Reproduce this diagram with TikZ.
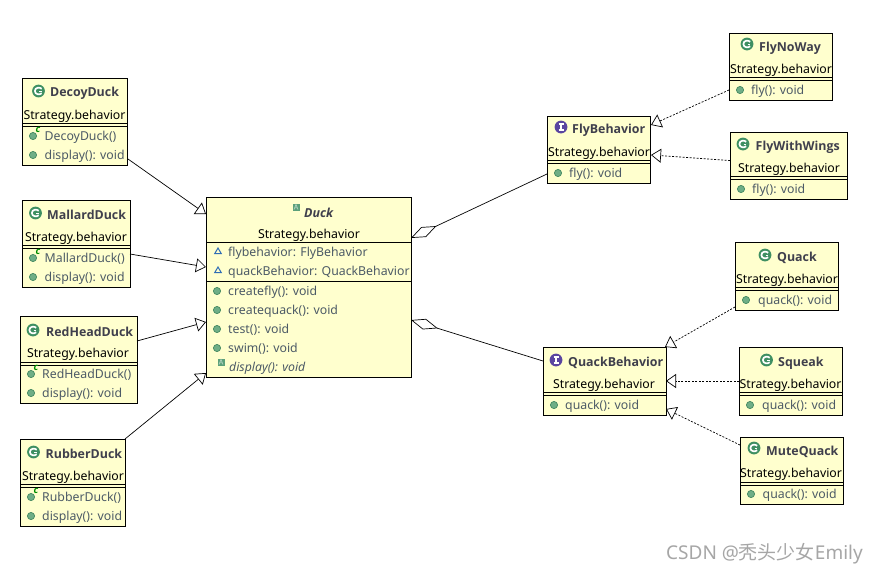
\documentclass[tikz,border=0pt]{standalone}
\usepackage{fontspec}
\setmainfont{Noto Sans}
\newfontfamily\cjkwm{Noto Sans CJK SC}
\newfontfamily\ttlfam{Open Sans}
\usetikzlibrary{arrows.meta,calc}
\definecolor{boxfill}{HTML}{FFFFCE}
\definecolor{ttlcol}{HTML}{3F3F4C}
\definecolor{memcol}{HTML}{4C5A66}
\definecolor{icongreen}{HTML}{3E8F62}
\definecolor{dotfill}{HTML}{6FAE86}
\definecolor{dotline}{HTML}{468A62}
\definecolor{ifacecol}{HTML}{5A45A0}
\definecolor{tricol}{HTML}{2F6DB5}
\definecolor{wmcol}{HTML}{A6A6A6}
\tikzset{
  x=1pt,y=-1pt,
  umlbox/.style={draw=black,fill=boxfill,line width=1pt,inner sep=0pt,outer sep=0pt},
  ttltext/.style={anchor=west,inner sep=0pt,yshift=-.8pt,font=\ttlfam\fontsize{12.4}{12}\selectfont\bfseries,text=ttlcol},
  pkgtext/.style={anchor=center,inner sep=0pt,yshift=-1pt,font=\fontsize{12.3}{12}\selectfont,text=black},
  memtext/.style={anchor=west,inner sep=0pt,yshift=-1pt,font=\fontsize{12.3}{12}\selectfont,text=memcol},
  gentip/.style={-{Triangle[open,length=10pt,width=14pt]}},
  gen/.style={draw=black,line width=.7pt,gentip},
  realize/.style={gen,dash pattern=on 2pt off 1.5pt},
  agg/.style={draw=black,line width=.7pt,{Diamond[open,length=28pt,width=11pt]}-},
}
\newcommand{\ubox}[5]{\node[umlbox,minimum width={(#4-#2)*1pt},minimum height={(#5-#3)*1pt}] (#1) at ({(#2+#4)/2},{(#3+#5)/2}) {};}
\newcommand{\hrules}[3]{\draw[line width=1pt] (#1,#3) -- (#2,#3);}
\newcommand{\ttlnode}[4]{\node[ttltext] (#1-t) at (#2,#3) {#4};}
\newcommand{\pkgnode}[3]{\node[pkgtext] (#1-p) at (#2,#3) {Strategy.behavior};}
\newcommand{\memnode}[4]{\node[memtext] (#1) at (#2,#3) {#4};}
\newcommand{\pubdot}[2]{\fill[dotfill,draw=dotline,line width=.7pt] (#1,#2) circle[radius=3.6pt];}
\newcommand{\classicon}[2]{\begin{scope}[shift={(#1,#2)}]
  \fill[icongreen] (0,0) circle[radius=6.4pt];
  \draw[white,line width=1.7pt] (3.2,-2.2) .. controls (1.5,-4) and (-3.6,-3.8) .. (-3.6,0) .. controls (-3.6,3.8) and (1.5,4) .. (3.2,2.2);
  \draw[white,line width=1.2pt] (0.5,0.5) -- (3.4,0.5);
  \end{scope}}
\newcommand{\ifaceicon}[2]{\begin{scope}[shift={(#1,#2)}]
  \fill[ifacecol] (0,0) circle[radius=6.4pt];
  \draw[white,line width=1.4pt] (-2.5,-3) -- (2.5,-3) (-2.5,3) -- (2.5,3) (0,-3) -- (0,3);
  \end{scope}}
\newcommand{\ctoricon}[2]{\node[inner sep=0pt,font=\ttlfam\fontsize{9.5}{9}\selectfont\bfseries\itshape,text=green!55!black] at (#1,#2) {c};}
\newcommand{\absicon}[2]{\begin{scope}[shift={(#1,#2)}]
  \fill[icongreen!85] (-3.5,-3.5) rectangle (3.5,3.5);
  \draw[white!65!icongreen,line width=.6pt] (-2,2.5) -- (0,-2.5) -- (2,2.5) (-1.2,.8) -- (1.2,.8);
  \end{scope}}
\newcommand{\fieldicon}[2]{\draw[tricol,line width=1pt] (#1,#2-3) -- (#1+3.2,#2+2.5) -- (#1-3.2,#2+2.5) -- cycle;}
\begin{document}
\begin{tikzpicture}
\useasboundingbox (0,0) rectangle (879,574);
\fill[white] (0,0) rectangle (879,574);
% DecoyDuck
\ubox{Decoy}{22}{78}{127}{165}
\hrules{22}{127}{123}\hrules{22}{127}{126}
\classicon{38.5}{91}\ttlnode{Decoy}{50}{92}{DecoyDuck}\pkgnode{Decoy}{74.5}{115}
\pubdot{33}{136}\ctoricon{38}{130}\memnode{Decoy-m1}{44.5}{136}{DecoyDuck()}
\pubdot{33}{155}\memnode{Decoy-m2}{44.5}{155}{display(): void}
% MallardDuck
\ubox{Mallard}{22}{200}{130}{287}
\hrules{22}{130}{245}\hrules{22}{130}{248}
\classicon{35.5}{213}\ttlnode{Mallard}{47}{214}{MallardDuck}\pkgnode{Mallard}{76}{237}
\pubdot{33}{258}\ctoricon{38}{252}\memnode{Mallard-m1}{44.5}{258}{MallardDuck()}
\pubdot{33}{277}\memnode{Mallard-m2}{44.5}{277}{display(): void}
% RedHeadDuck
\ubox{RedHead}{20}{316}{137}{403}
\hrules{20}{137}{362}\hrules{20}{137}{365}
\classicon{33}{330}\ttlnode{RedHead}{46}{331}{RedHeadDuck}\pkgnode{RedHead}{78}{353}
\pubdot{31}{374}\ctoricon{36}{368}\memnode{RedHead-m1}{42}{374}{RedHeadDuck()}
\pubdot{31}{393}\memnode{RedHead-m2}{42}{393}{display(): void}
% RubberDuck
\ubox{Rubber}{20}{439}{125}{526}
\hrules{20}{125}{484}\hrules{20}{125}{487}
\classicon{33.5}{452}\ttlnode{Rubber}{45.5}{453}{RubberDuck}\pkgnode{Rubber}{73}{476}
\pubdot{31}{497}\ctoricon{36}{491}\memnode{Rubber-m1}{42}{497}{RubberDuck()}
\pubdot{31}{516}\memnode{Rubber-m2}{42}{516}{display(): void}
% Duck
\ubox{Duck}{206}{197}{411}{377}
\hrules{206}{411}{242}\hrules{206}{411}{281}
\absicon{296}{207}\node[ttltext,font=\ttlfam\fontsize{12.4}{12}\selectfont\bfseries\itshape] (Duck-t) at (304,212) {Duck};
\pkgnode{Duck}{309}{234}
\fieldicon{218}{251}\memnode{Duck-f1}{228}{252}{flybehavior: FlyBehavior}
\fieldicon{218}{270}\memnode{Duck-f2}{228}{271}{quackBehavior: QuackBehavior}
\pubdot{217}{291}\memnode{Duck-m1}{228}{291}{createfly(): void}
\pubdot{217}{310}\memnode{Duck-m2}{228}{310}{createquack(): void}
\pubdot{217}{329}\memnode{Duck-m3}{228}{329}{test(): void}
\pubdot{217}{348}\memnode{Duck-m4}{228}{348}{swim(): void}
\absicon{221}{362}\node[memtext,font=\fontsize{12.3}{12}\selectfont\itshape] (Duck-m5) at (229,367) {display(): void};
% FlyBehavior
\ubox{Fly}{547}{116}{650}{183}
\hrules{547}{650}{160}\hrules{547}{650}{163}
\ifaceicon{561}{127}\ttlnode{Fly}{572}{129}{FlyBehavior}\pkgnode{Fly}{599}{152}
\pubdot{558}{173}\memnode{Fly-m1}{569}{173}{fly(): void}
% FlyNoWay
\ubox{NoWay}{729}{33}{832}{100}
\hrules{729}{832}{77}\hrules{729}{832}{80}
\classicon{747}{44}\ttlnode{NoWay}{759}{47}{FlyNoWay}\pkgnode{NoWay}{781}{69}
\pubdot{740}{90}\memnode{NoWay-m1}{751}{90}{fly(): void}
% FlyWithWings
\ubox{Wings}{730}{132}{847}{199}
\hrules{730}{847}{176}\hrules{730}{847}{179}
\classicon{743}{144}\ttlnode{Wings}{755.5}{146}{FlyWithWings}\pkgnode{Wings}{789}{168}
\pubdot{741}{189}\memnode{Wings-m1}{752}{189}{fly(): void}
% Quack
\ubox{Quack}{735}{242}{838}{310}
\hrules{735}{838}{287}\hrules{735}{838}{290}
\classicon{765}{255}\ttlnode{Quack}{777}{257}{Quack}\pkgnode{Quack}{787}{279}
\pubdot{746}{300}\memnode{Quack-m1}{758}{300}{quack(): void}
% QuackBehavior
\ubox{QB}{543}{347}{666}{415}
\hrules{543}{666}{392}\hrules{543}{666}{395}
\ifaceicon{556}{360}\ttlnode{QB}{568}{362}{QuackBehavior}\pkgnode{QB}{604}{384}
\pubdot{554}{405}\memnode{QB-m1}{565}{405}{quack(): void}
% Squeak
\ubox{Squeak}{739}{347}{842}{415}
\hrules{739}{842}{392}\hrules{739}{842}{395}
\classicon{766.5}{360}\ttlnode{Squeak}{778}{362}{Squeak}\pkgnode{Squeak}{790.5}{384}
\pubdot{750}{405}\memnode{Squeak-m1}{762}{405}{quack(): void}
% MuteQuack
\ubox{Mute}{740}{437}{843}{504}
\hrules{740}{843}{482}\hrules{740}{843}{485}
\classicon{754}{448}\ttlnode{Mute}{766}{451}{MuteQuack}\pkgnode{Mute}{791}{473}
\pubdot{751}{494}\memnode{Mute-m1}{762.5}{494}{quack(): void}
% connectors
\draw[gen] ($(Decoy.south east)+(1,-6)$) -- ($(Duck.north west)+(0,17)$);
\draw[gen] ($(Mallard.south east)+(0,-33)$) -- ($(Duck.north west)+(0,70)$);
\draw[gen] ($(RedHead.north east)+(0,25)$) -- ($(Duck.south west)+(0,-55)$);
\draw[gen] (Rubber.north east) -- ($(Duck.south west)+(0,-4)$);
\draw[agg] ($(Duck.north east)+(0,41)$) -- ($(Fly.south west)+(0,-9)$);
\draw[agg] ($(Duck.south east)+(0,-57)$) -- ($(QB.north west)+(0,14)$);
\draw[realize] ($(NoWay.south west)+(0,-10)$) -- ($(Fly.north east)+(1,9)$);
\draw[realize] ($(Wings.south west)+(0,-38.5)$) -- ($(Fly.north east)+(1,39)$);
\draw[realize] ($(Quack.south west)+(0,-3)$) -- ($(QB.north east)+(-1,0)$);
\draw[realize] ($(Squeak.south west)+(0,-34)$) -- ($(QB.north east)+(0,34)$);
\draw[realize] ($(Mute.north west)+(0,8)$) -- ($(QB.south east)+(0,-6)$);
% watermark
\node[anchor=west,inner sep=0pt,text=wmcol,font=\fontsize{19}{19}\selectfont] (wm) at (666,554) {CSDN @{\cjkwm 秃头少女}Emily};
\end{tikzpicture}
\end{document}
